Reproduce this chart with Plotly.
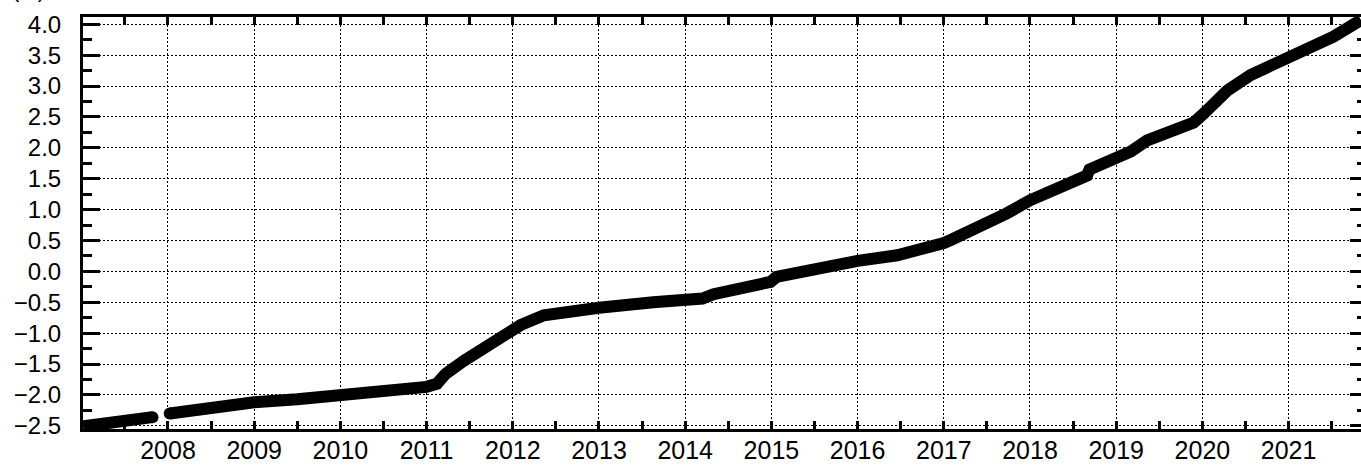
import plotly.graph_objects as go

# ---- data (decimal year, value) ----
seg1_t = [2007.014, 2007.25, 2007.5, 2007.82]
seg1_v = [-2.51, -2.46, -2.42, -2.36]

seg2_t = [2008.02, 2008.25, 2008.5, 2008.75, 2009.0, 2009.5, 2010.0, 2010.5, 2010.9,
          2011.0, 2011.12, 2011.22, 2011.43, 2011.7, 2011.89, 2012.09, 2012.36, 2012.6,
          2013.0, 2013.63, 2014.13, 2014.2, 2014.33, 2014.5, 2014.72, 2014.99, 2015.06,
          2015.49, 2016.0, 2016.46, 2016.75, 2017.0, 2017.1, 2017.3, 2017.46, 2017.73, 2018.0,
          2018.31, 2018.58, 2018.66, 2018.69, 2019.01, 2019.17, 2019.36, 2019.6, 2019.79,
          2019.9, 2020.02, 2020.15, 2020.29, 2020.56, 2021.0, 2021.33, 2021.52, 2021.84]
seg2_v = [-2.30, -2.25, -2.20, -2.16, -2.12, -2.07, -2.00, -1.96, -1.89,
          -1.87, -1.82, -1.66, -1.45, -1.21, -1.01, -0.87, -0.71, -0.66,
          -0.59, -0.50, -0.44, -0.44, -0.37, -0.31, -0.26, -0.17, -0.09,
          0.05, 0.17, 0.26, 0.35, 0.46, 0.52, 0.64, 0.77, 0.94, 1.15,
          1.34, 1.50, 1.55, 1.65, 1.84, 1.94, 2.12, 2.26, 2.37,
          2.41, 2.56, 2.72, 2.93, 3.18, 3.48, 3.66, 3.80, 4.07]

year_ticks = list(range(2008, 2022))
year_labels = [str(y) for y in year_ticks]
x_range = [2007.014, 2021.84]
y_range = [-2.552, 4.118]
unit_label = "(m)"

t_all = seg1_t + [None] + seg2_t
v_all = seg1_v + [None] + seg2_v

FONT = "Liberation Sans, Arial, Helvetica, sans-serif"
LW = 12

fig = go.Figure()
fig.add_trace(go.Scatter(
    x=t_all, y=v_all, mode="lines",
    line=dict(color="black", width=LW),
    connectgaps=False, showlegend=False, hoverinfo="skip",
))
# rounded ends of the two segments
fig.add_trace(go.Scatter(
    x=[seg1_t[-1], seg2_t[0]], y=[seg1_v[-1], seg2_v[0]], mode="markers",
    marker=dict(color="black", size=LW), showlegend=False, hoverinfo="skip",
))
# invisible traces to activate the overlay axes
fig.add_trace(go.Scatter(x=seg2_t, y=seg2_v, xaxis="x2", yaxis="y", opacity=0,
                         mode="lines", showlegend=False, hoverinfo="skip"))
fig.add_trace(go.Scatter(x=seg2_t, y=seg2_v, xaxis="x", yaxis="y2", opacity=0,
                         mode="lines", showlegend=False, hoverinfo="skip"))

grid_dash = "2px,2px"

fig.update_layout(
    width=1361, height=468,
    margin=dict(l=83, r=0, t=17, b=39, autoexpand=False),
    paper_bgcolor="white", plot_bgcolor="white",
    font=dict(family=FONT, color="black"),
    xaxis=dict(
        range=x_range, tickmode="array", tickvals=year_ticks, ticktext=year_labels,
        showgrid=True, gridcolor="black", gridwidth=1, griddash=grid_dash,
        ticks="inside", ticklen=8, tickwidth=2.5, tickcolor="black",
        minor=dict(ticks="inside", ticklen=8, tickwidth=2.5, tickcolor="black",
                   tickmode="linear", tick0=2007.5, dtick=1, showgrid=False),
        showline=True, linecolor="black", linewidth=3,
        tickfont=dict(size=25, family=FONT, color="black"),
        ticklabelstandoff=-3, zeroline=False, automargin=False,
    ),
    xaxis2=dict(
        range=x_range, overlaying="x", side="top", anchor="y",
        tickmode="linear", tick0=2008, dtick=0.5,
        ticks="inside", ticklen=8, tickwidth=2.5, tickcolor="black",
        showticklabels=False, showgrid=False, zeroline=False,
        showline=True, linecolor="black", linewidth=3,
    ),
    yaxis=dict(
        range=y_range, tickmode="linear", tick0=0, dtick=0.5, tickformat=".1f",
        showgrid=True, gridcolor="black", gridwidth=1, griddash=grid_dash,
        ticks="inside", ticklen=17, tickwidth=2.5, tickcolor="black",
        minor=dict(ticks="inside", ticklen=9, tickwidth=2.5, tickcolor="black",
                   dtick=0.25, showgrid=False),
        showline=True, linecolor="black", linewidth=3,
        tickfont=dict(size=24, family=FONT, color="black"),
        ticklabelstandoff=14, zeroline=False, automargin=False,
    ),
    yaxis2=dict(
        range=y_range, overlaying="y", side="right", anchor="x",
        tickmode="linear", tick0=0, dtick=0.5,
        ticks="inside", ticklen=11, tickwidth=2.5, tickcolor="black",
        minor=dict(ticks="inside", ticklen=4, tickwidth=2.5, tickcolor="black",
                   dtick=0.25, showgrid=False),
        showticklabels=False, showgrid=False, zeroline=False, showline=False,
    ),
    annotations=[dict(
        text=unit_label, xref="paper", yref="paper",
        x=(10 - 83) / 1278, y=(412 + 13) / 412,
        xanchor="left", yanchor="bottom", showarrow=False,
        font=dict(size=22, family=FONT, color="black"),
    )],
)

fig.write_html(
    "out.html",
    config={"displayModeBar": False},
    post_script="document.body.style.margin='0';document.body.style.overflow='hidden';",
)
